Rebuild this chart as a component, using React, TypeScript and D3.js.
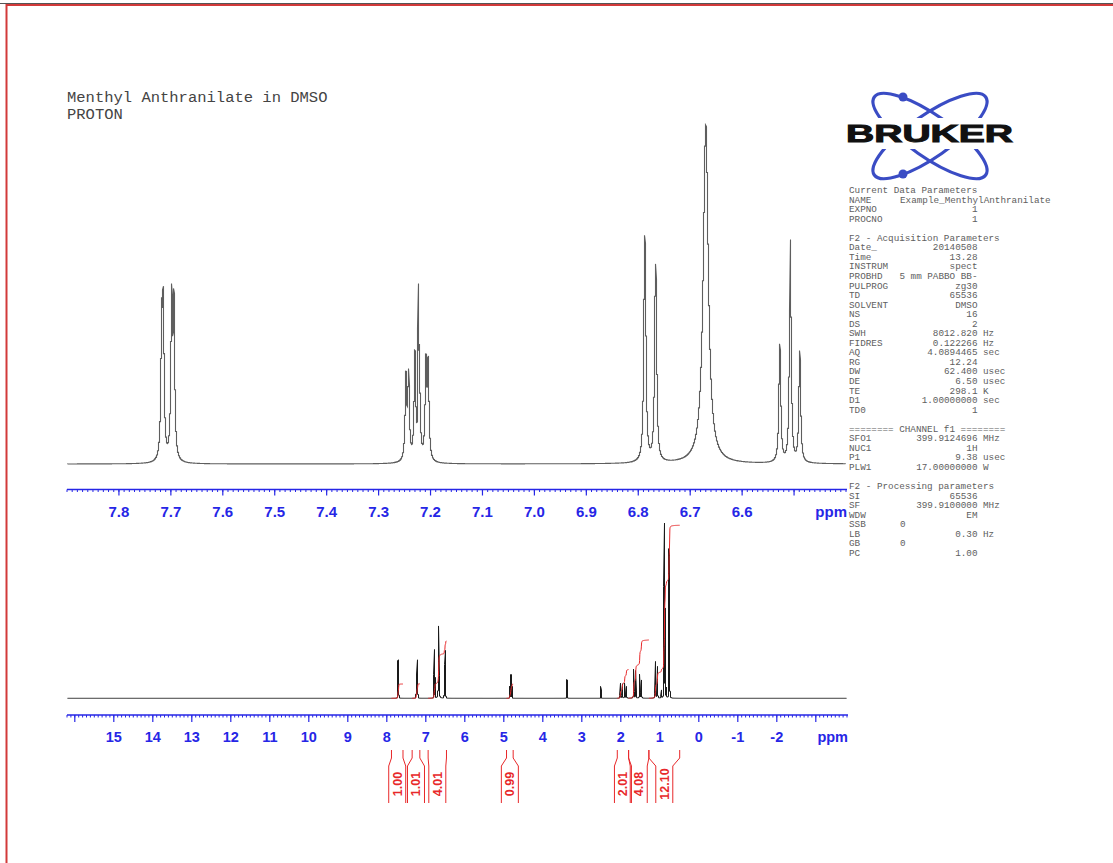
import React from 'react';
import * as d3 from 'd3';

type Peak = [number, number, number]; // [ppm, height (NH2 = 100), half-width at half-height (ppm)]

const G = 0.0018;
const aromaticPeaks: Peak[] = [
  [7.7177, 37.3, G], [7.7146, 41.7, G], [7.6985, 45.7, G], [7.6942, 44.3, G],
  [7.2474, 24, G], [7.2423, 24.4, G], [7.2301, 30.9, G], [7.2238, 36.2, 0.0005], [7.2218, 30.6, G],
  [7.2089, 27.5, G], [7.2045, 27.2, G],
  [6.788, 49.4, G], [6.7862, 31.5, G], [6.7672, 41.6, G], [6.7655, 28, G],
  [6.67, 100, 0.0058],
  [6.5278, 29.4, G], [6.5262, 9.2, G], [6.5085, 28, G], [6.5069, 27.4, 0.0005], [6.506, 28, G],
  [6.4893, 29, G], [6.4878, 6.1, G],
];

const menthylPeaks: Peak[] = [
  [4.7875, 16, 0.0015], [4.7985, 16, 0.0015], [4.8145, 32, 0.0015], [4.8255, 32, 0.0015],
  [4.8415, 16, 0.0015], [4.8525, 16, 0.0015],
  [2.012, 20.7, 0.004], [1.961, 19.8, 0.004], [1.9, 20.7, 0.004], [1.857, 16.2, 0.004],
  [1.669, 40, 0.004], [1.617, 38, 0.004], [1.515, 33, 0.004], [1.472, 25, 0.004],
  [1.113, 50.6, 0.004], [1.061, 43.7, 0.004], [0.96, 11, 0.004], [0.83, 14, 0.004],
  [0.898, 150, 0.002], [0.881, 185, 0.002], [0.878, 165, 0.002], [0.861, 120, 0.002],
  [0.765, 204, 0.002], [0.748, 198, 0.002],
];

const solventPeaks: Peak[] = [
  [3.38, 26, 0.003],
  [2.501, 5, 0.0012], [2.5055, 10, 0.0012], [2.51, 15, 0.0012], [2.5145, 10, 0.0012], [2.519, 5, 0.0012],
];

const allPeaks: Peak[] = [...aromaticPeaks, ...menthylPeaks, ...solventPeaks];

const topTicks = [7.8, 7.7, 7.6, 7.5, 7.4, 7.3, 7.2, 7.1, 7.0, 6.9, 6.8, 6.7, 6.6];
const bottomTicks = [15, 14, 13, 12, 11, 10, 9, 8, 7, 6, 5, 4, 3, 2, 1, 0, -1, -2];

const integralStarts = [7.88, 7.35, 6.94, 4.93, 2.09, 1.8, 1.28];
const integralEnds = [7.585, 7.153, 6.47, 4.76, 1.8, 1.28, 0.49];
const integralValues = ['1.00', '1.01', '4.01', '0.99', '2.01', '4.08', '12.10'];

const titleLines = ['Menthyl Anthranilate in DMSO', 'PROTON'];

const paramRows: [string, string, string][] = [
  ['Current Data Parameters', '', ''],
  ['NAME', '@Example_MenthylAnthranilate', ''],
  ['EXPNO', '1', ''],
  ['PROCNO', '1', ''],
  ['', '', ''],
  ['F2 - Acquisition Parameters', '', ''],
  ['Date_', '20140508', ''],
  ['Time', '13.28', ''],
  ['INSTRUM', 'spect', ''],
  ['PROBHD', '5 mm PABBO BB-', ''],
  ['PULPROG', 'zg30', ''],
  ['TD', '65536', ''],
  ['SOLVENT', 'DMSO', ''],
  ['NS', '16', ''],
  ['DS', '2', ''],
  ['SWH', '8012.820', 'Hz'],
  ['FIDRES', '0.122266', 'Hz'],
  ['AQ', '4.0894465', 'sec'],
  ['RG', '12.24', ''],
  ['DW', '62.400', 'usec'],
  ['DE', '6.50', 'usec'],
  ['TE', '298.1', 'K'],
  ['D1', '1.00000000', 'sec'],
  ['TD0', '1', ''],
  ['', '', ''],
  ['======== CHANNEL f1 ========', '', ''],
  ['SFO1', '399.9124696', 'MHz'],
  ['NUC1', '1H', ''],
  ['P1', '9.38', 'usec'],
  ['PLW1', '17.00000000', 'W'],
  ['', '', ''],
  ['F2 - Processing parameters', '', ''],
  ['SI', '65536', ''],
  ['SF', '399.9100000', 'MHz'],
  ['WDW', 'EM', ''],
  ['SSB', '@0', ''],
  ['LB', '0.30', 'Hz'],
  ['GB', '@0', ''],
  ['PC', '1.00', ''],
];

const BLUE = '#2626e6';
const RED = '#e8282a';

function intensity(ppm: number, peaks: Peak[]) {
  let s = 0;
  for (const [p, h, g] of peaks) {
    const d = ppm - p;
    s += (h * g * g) / (d * d + g * g);
  }
  return s;
}

function envelopePath(
  x: d3.ScaleLinear<number, number>,
  y: d3.ScaleLinear<number, number>,
  peaks: Peak[],
  x0: number,
  x1: number,
  sub = 24,
) {
  const pts: [number, number][] = [];
  for (let px = x0; px < x1; px++) {
    const a = x.invert(px);
    const b = x.invert(px + 1);
    const lo = Math.min(a, b);
    const hi = Math.max(a, b);
    let mn = Infinity;
    let mx = -Infinity;
    for (let k = 0; k <= sub; k++) {
      const v = intensity(a + ((b - a) * k) / sub, peaks);
      if (v < mn) mn = v;
      if (v > mx) mx = v;
    }
    for (const pk of peaks) {
      if (pk[0] >= lo && pk[0] <= hi) {
        const v = intensity(pk[0], peaks);
        if (v > mx) mx = v;
      }
    }
    const first = intensity(a, peaks);
    const last = intensity(b, peaks);
    const xc = px + 0.5;
    if (first <= last) {
      pts.push([xc, y(mn)], [xc, y(mx)]);
    } else {
      pts.push([xc, y(mx)], [xc, y(mn)]);
    }
  }
  return d3.line()(pts) || '';
}

function cumulative(start: number, u: number, peaks: Peak[]) {
  let s = 0;
  for (const [p, h, g] of peaks) {
    s += h * g * (Math.atan((start - p) / g) - Math.atan((u - p) / g));
  }
  return s;
}

export default function App() {
  const xTop = d3.scaleLinear().domain([7.9, 6.4]).range([67, 846]);
  const yTop = d3.scaleLinear().domain([0, 100]).range([464, 125]);
  const xBot = d3.scaleLinear().domain([16.2, -3.8]).range([67, 847]);
  const yBot = d3.scaleLinear().domain([0, 100]).range([698.3, 626]);
  const yInt = d3.scaleLinear().domain([0, 1]).range([698.3, 684]);

  const topPath = envelopePath(xTop, yTop, aromaticPeaks, 67, 846);
  const botPath = envelopePath(xBot, yBot, allPeaks, 67, 847);

  const topMinor = d3.range(640, 790 + 1).map((v) => v / 100);
  const botMinor = d3.range(-38, 162 + 1).map((v) => v / 10);

  const integrals = integralStarts.map((s, i) => {
    const e = integralEnds[i];
    const total = cumulative(s, e, allPeaks);
    const v = parseFloat(integralValues[i]);
    const xs = xBot(s);
    const xe = xBot(e);
    const pts: [number, number][] = [];
    for (let px = xs; px <= xe; px += 0.25) {
      const u = xBot.invert(px);
      pts.push([px, yInt((v * cumulative(s, u, allPeaks)) / total)]);
    }
    pts.push([xe, yInt(v)]);
    return { xs, xe, path: d3.line()(pts) || '', label: integralValues[i] };
  });

  const mono = "'Courier New', 'Liberation Mono', monospace";
  const sans = "'Liberation Sans', Arial, sans-serif";

  const lcx = 930;
  const lcy = 136;

  return (
    <svg
      width={1113}
      height={863}
      style={{ position: 'absolute', left: 0, top: 0, background: '#fff' }}
      xmlns="http://www.w3.org/2000/svg"
    >
      <rect x={0} y={0} width={1113} height={863} fill="#fff" />
      {/* frame */}
      <line x1={0} y1={3.5} x2={1113} y2={3.5} stroke="#555" strokeWidth={1} />
      <line x1={6} y1={5} x2={1113} y2={5} stroke="#d23a3a" strokeWidth={2} />
      <line x1={6.5} y1={4} x2={6.5} y2={863} stroke="#d23a3a" strokeWidth={2} />

      {/* title */}
      {titleLines.map((t, i) => (
        <text key={t} x={67} y={102 + i * 16.5} fontFamily={mono} fontSize={15.5} fill="#444">
          {t}
        </text>
      ))}

      {/* top spectrum */}
      <path d={topPath} fill="none" stroke="#5e5e5e" strokeWidth={1.1} />

      {/* top axis */}
      <g>
        <line x1={67} x2={847} y1={489.5} y2={489.5} stroke={BLUE} strokeWidth={1.5} />
        {topMinor.map((t) => (
          <line key={'tm' + t} x1={xTop(t)} x2={xTop(t)} y1={489.5} y2={492} stroke={BLUE} strokeWidth={1} />
        ))}
        {[...topTicks, 6.5].map((t) => (
          <line key={'tM' + t} x1={xTop(t)} x2={xTop(t)} y1={489.5} y2={495.5} stroke={BLUE} strokeWidth={1.2} />
        ))}
        {topTicks.map((t) => (
          <text
            key={'tl' + t}
            x={xTop(t)}
            y={517}
            textAnchor="middle"
            fontFamily={sans}
            fontWeight="bold"
            fontSize={15}
            fill={BLUE}
          >
            {t.toFixed(1)}
          </text>
        ))}
        <text x={847} y={517} textAnchor="end" fontFamily={sans} fontWeight="bold" fontSize={15} fill={BLUE}>
          ppm
        </text>
      </g>

      {/* bottom spectrum */}
      <path d={botPath} fill="none" stroke="#1a1a1a" strokeWidth={1} />
      {integrals.map((it) => (
        <path key={'ip' + it.label} d={it.path} fill="none" stroke={RED} strokeWidth={1} />
      ))}

      {/* bottom axis */}
      <g>
        <line x1={67} x2={848} y1={715} y2={715} stroke={BLUE} strokeWidth={1.5} />
        {botMinor.map((t) => (
          <line key={'bm' + t} x1={xBot(t)} x2={xBot(t)} y1={715} y2={717.5} stroke={BLUE} strokeWidth={1} />
        ))}
        {[16, ...bottomTicks, -3].map((t) => (
          <line key={'bM' + t} x1={xBot(t)} x2={xBot(t)} y1={715} y2={722} stroke={BLUE} strokeWidth={1.2} />
        ))}
        {bottomTicks.map((t) => (
          <text
            key={'bl' + t}
            x={xBot(t)}
            y={742}
            textAnchor="middle"
            fontFamily={sans}
            fontWeight="bold"
            fontSize={14.5}
            fill={BLUE}
          >
            {String(t)}
          </text>
        ))}
        <text x={848} y={742} textAnchor="end" fontFamily={sans} fontWeight="bold" fontSize={14.5} fill={BLUE}>
          ppm
        </text>
      </g>

      {/* integral labels */}
      {integrals.map((it) => {
        const cx = (it.xs + it.xe) / 2;
        const hw = 8.5;
        const d = `M${it.xs},750 L${it.xs},758 L${cx - hw},766 L${cx - hw},803 M${it.xe},750 L${it.xe},758 L${cx + hw},766 L${cx + hw},803`;
        return (
          <g key={'il' + it.label}>
            <path d={d} fill="none" stroke={RED} strokeWidth={1} />
            <text
              transform={`translate(${cx + 4.5},784) rotate(-90)`}
              textAnchor="middle"
              fontFamily={sans}
              fontWeight="bold"
              fontSize={12.5}
              fill={RED}
            >
              {it.label}
            </text>
          </g>
        );
      })}

      {/* Bruker logo */}
      <g>
        <ellipse
          cx={lcx}
          cy={lcy}
          rx={68}
          ry={21}
          transform={`rotate(35 ${lcx} ${lcy})`}
          fill="none"
          stroke="#3a4cc4"
          strokeWidth={3.2}
        />
        <ellipse
          cx={lcx}
          cy={lcy}
          rx={68}
          ry={21}
          transform={`rotate(-35 ${lcx} ${lcy})`}
          fill="none"
          stroke="#3a4cc4"
          strokeWidth={3.2}
        />
        <circle cx={903} cy={97} r={4.5} fill="#3a4cc4" />
        <circle cx={903} cy={174} r={4.5} fill="#3a4cc4" />
        <rect x={843} y={118} width={174} height={31} fill="#fff" />
        <text
          x={846}
          y={142}
          fontFamily={sans}
          fontWeight="900"
          fontSize={24.5}
          textLength={167}
          lengthAdjust="spacingAndGlyphs"
          fill="#111"
          stroke="#111"
          strokeWidth={1}
        >
          BRUKER
        </text>
      </g>

      {/* parameters */}
      <g fontFamily={mono} fontSize={9.3} fill="#606060">
        {paramRows.map(([a, b, c], i) => {
          const y = 193 + i * 9.55;
          return (
            <g key={'pr' + i}>
              {a && (
                <text x={849} y={y}>
                  {a}
                </text>
              )}
              {b &&
                (b.startsWith('@') ? (
                  <text x={900} y={y}>
                    {b.slice(1)}
                  </text>
                ) : (
                  <text x={977.5} y={y} textAnchor="end">
                    {b}
                  </text>
                ))}
              {c && (
                <text x={983} y={y}>
                  {c}
                </text>
              )}
            </g>
          );
        })}
      </g>
    </svg>
  );
}
